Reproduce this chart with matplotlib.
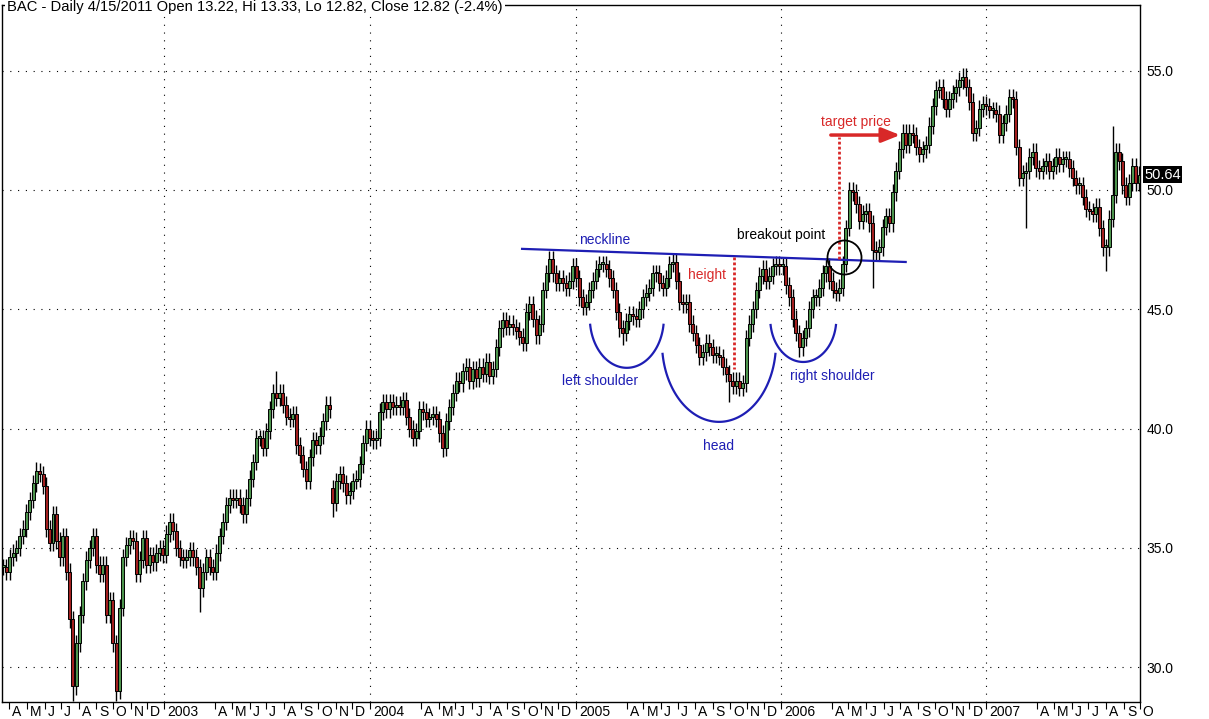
import numpy as np
import pandas as pd
import matplotlib
matplotlib.use("Agg")
import matplotlib.pyplot as plt
import matplotlib.transforms as mtransforms

plt.rcParams["font.family"] = ["Liberation Sans", "DejaVu Sans"]

# closes, one sample every ~4 trading days
closes_2002 = [
    34.2, 34.0, 34.6, 34.8, 35.0, 35.5, 35.8, 36.5, 37.0, 37.7,
    38.2, 38.1, 37.6, 35.8, 35.2, 36.4, 35.3, 34.6, 35.5, 34.0,
    32.0, 29.2, 31.0, 32.2, 33.6, 34.5, 35.0, 35.5, 34.3, 33.9,
    34.3, 32.2, 32.8, 31.0, 29.0, 32.5, 34.6, 35.1, 35.4, 35.3,
    33.9, 34.5, 35.4, 34.3, 34.7, 34.4, 34.8, 35.0, 34.7, 35.6,
    36.1, 35.7, 35.0, 34.6, 34.5, 34.6, 34.9,
]
closes_2003 = [
    34.6, 34.2, 33.3, 34.0, 34.6, 34.2, 34.0, 34.8, 35.5, 36.1,
    36.8, 37.1, 37.0, 37.1, 36.8, 36.4, 37.1, 37.9, 38.6, 39.6,
    39.6, 39.2, 39.9, 40.8, 41.5, 41.3, 41.5, 41.0, 40.5, 40.4,
    40.6, 39.3, 38.9, 38.3, 37.8, 38.8, 39.5, 39.3, 39.7, 40.3,
    41.0, 40.8, 36.9, 37.8, 38.1, 37.7, 37.2, 37.4, 37.8, 37.9,
    38.5, 39.4, 40.0, 39.6, 39.5, 39.6, 40.7, 41.1, 40.8, 41.1,
]
closes_2004 = [
    40.9, 41.0, 40.9, 41.2, 40.5, 40.0, 39.6, 39.9, 40.8, 40.7,
    40.4, 40.5, 40.6, 40.4, 39.8, 39.2, 40.3, 40.9, 41.5, 42.0,
    41.9, 42.4, 42.6, 42.0, 42.5, 42.1, 42.6, 42.3, 42.8, 42.2,
    42.5, 43.4, 44.2, 44.55, 44.25, 44.4, 44.25, 44.1, 43.85, 43.6,
    44.9, 45.2, 44.6, 43.9, 44.4, 45.8, 46.5, 47.1, 46.5, 46.1,
    46.3, 46.1, 45.9, 46.2, 46.8, 46.3, 45.5, 45.1, 45.3, 45.8,
    46.2, 46.7,
]
closes_2005 = [
    46.9, 46.9, 46.7, 46.3, 45.8, 44.9, 44.2, 44.0, 44.5, 44.8,
    44.7, 44.6, 45.0, 45.5, 45.7, 45.9, 46.5, 46.5, 46.1, 45.9,
    46.3, 46.9, 47.0, 46.2, 45.3, 45.2, 45.3, 44.4, 44.0, 43.5,
    43.0, 43.2, 43.6, 43.4, 43.1, 43.1, 43.0, 42.6, 42.3, 42.0,
    41.8, 42.0, 41.7, 41.9, 43.8, 44.4, 45.0, 45.8, 46.4, 46.7,
    46.2, 46.4, 46.8, 46.9, 46.8, 46.8, 46.0, 45.5,
]
closes_2006 = [
    44.6, 44.0, 43.4, 43.8, 44.2, 45.0, 45.5, 45.5, 45.9, 46.5,
    46.8, 46.2, 45.8, 45.7, 45.9, 46.9, 48.4, 50.0, 49.9, 49.4,
    48.7, 49.0, 49.1, 48.6, 47.5, 47.4, 47.6, 48.45, 48.9, 48.6,
    49.9, 50.8, 51.7, 52.4, 51.9, 52.4, 52.3, 51.8, 51.5, 51.7,
    51.9, 52.7, 53.5, 54.2, 54.3, 53.8, 53.4, 53.8, 54.05, 54.3,
    54.6, 54.75, 54.3, 53.7, 52.4, 52.6, 53.4, 53.6, 53.5, 53.35,
]
closes_2007 = [
    53.35, 53.2, 52.3, 52.8, 53.2, 53.9, 53.8, 51.8, 50.5, 50.7,
    50.8, 51.4, 51.6, 50.9, 50.8, 51.0, 51.2, 50.8, 51.0, 51.4,
    51.1, 51.3, 51.3, 50.9, 50.5, 50.2, 50.2, 49.7, 49.2, 49.1,
    49.0, 49.3, 48.4, 47.6, 47.6, 48.8, 49.8, 51.6, 51.2, 50.2,
    49.7, 50.3, 51.0, 50.3, 50.64,
]
# gap open (Oct 2003) and long wicks seen on the chart
gap_opens = {99: 37.5}
spike_lows = {21: 28.6, 34: 28.6, 59: 32.3, 99: 36.3, 132: 38.8, 186: 43.5,
              218: 41.1, 239: 43.0, 261: 45.9, 307: 48.4, 331: 46.6}
spike_highs = {10: 38.6, 82: 42.4, 333: 52.7}
last_price = 50.64

title = "BAC - Daily 4/15/2011 Open 13.22, Hi 13.33, Lo 12.82, Close 12.82 (-2.4%)"
y_ticks = [30.0, 35.0, 40.0, 45.0, 50.0, 55.0]
month_letters = ["J", "F", "M", "A", "M", "J", "J", "A", "S", "O", "N", "D"]

START = "2002-03-20"
BD_PER_SAMPLE = 4.23
WICK = 0.35
GREEN = "#4c944c"
RED = "#a31f1f"
BLUE = "#1e1eb4"
RED_TXT = "#d82828"


def bpos(d):
    return float(np.busday_count(START, d))


def arc(ax, center, width, height, color):
    # lower part of an ellipse, drawn in data units
    t = np.radians(np.linspace(188, 352, 80))
    cx, cy = bpos(center[0]), center[1]
    ax.plot(cx + width / 2 * np.cos(t), cy + height / 2 * np.sin(t), color=color, lw=1.6, zorder=4)


closes = np.array(closes_2002 + closes_2003 + closes_2004 + closes_2005
                  + closes_2006 + closes_2007)
n = len(closes)
x = np.arange(n) * BD_PER_SAMPLE
opens = np.r_[closes[0], closes[:-1]]
for i, v in gap_opens.items():
    opens[i] = v
hi = np.maximum(opens, closes) + WICK
lo = np.minimum(opens, closes) - WICK
for i, v in spike_lows.items():
    lo[i] = v
for i, v in spike_highs.items():
    hi[i] = v
up = closes >= opens

fig = plt.figure(figsize=(12.09, 7.19), dpi=100)
ax = fig.add_axes([2 / 1209, 17 / 719, 1138 / 1209, 697 / 719])

# grid
dots = (0, (1, 6))
for p in y_ticks:
    ax.axhline(p, color="black", lw=0.8, ls=dots, zorder=0)
for yr in range(2003, 2008):
    ax.axvline(bpos(f"{yr}-01-01"), color="black", lw=0.8, ls=dots, zorder=0)

# candles
ax.vlines(x, lo, hi, color="black", lw=1.0, zorder=2)
ax.bar(x, np.maximum(np.abs(closes - opens), 0.08), bottom=np.minimum(opens, closes),
       width=BD_PER_SAMPLE * 0.9, color=np.where(up, GREEN, RED),
       edgecolor="black", linewidth=0.7, zorder=3)

ax.set_xlim(-1.3, 1443.5)
ax.set_ylim(28.54, 57.75)

# axes styling
for s in ax.spines.values():
    s.set_color("black")
    s.set_linewidth(1)
ax.yaxis.tick_right()
ax.set_yticks(y_ticks)
ax.set_yticklabels([f"{v:.1f}" for v in y_ticks])
ax.tick_params(axis="y", length=0, pad=4.5, labelsize=10)

months = [m for m in pd.date_range("2002-04-01", "2007-10-01", freq="MS") if m.month not in (2, 3)]
month_pos = [bpos(m.strftime("%Y-%m-%d")) for m in months]
ax.set_xticks(month_pos)
ax.tick_params(axis="x", direction="out", length=5, width=0.8, labelbottom=False)
trans = mtransforms.blended_transform_factory(ax.transData, ax.transAxes) + \
    mtransforms.ScaledTranslation(3 / 100, -3 / 100, fig.dpi_scale_trans)
for m, pos in zip(months, month_pos):
    lab = str(m.year) if m.month == 1 else month_letters[m.month - 1]
    ax.text(pos, 0, lab, transform=trans, ha="left", va="top", fontsize=10, clip_on=False)

# last price tag
tag_tr = mtransforms.blended_transform_factory(ax.transAxes, ax.transData) + \
    mtransforms.ScaledTranslation(4 / 100, 0, fig.dpi_scale_trans)
ax.text(1.0, last_price, f"{last_price:.2f}", transform=tag_tr, ha="left", va="center",
        color="white", fontsize=10.5, clip_on=False,
        bbox=dict(boxstyle="square,pad=0.08", fc="black", ec="none"))

# title sitting on the frame
fig.text(7 / 1209, 1 - 7 / 719, title, ha="left", va="center", fontsize=10.6,
         bbox=dict(fc="white", ec="none", pad=1.5))

# head & shoulders annotations
ax.plot([bpos("2004-09-28"), bpos("2006-08-10")], [47.53, 46.98], color=BLUE, lw=1.6, zorder=4)
ax.text(bpos("2005-01-06"), 47.9, "neckline", color=BLUE, ha="left", va="center", fontsize=10)

arc(ax, ("2005-04-01", 44.64), 94, 4.19, BLUE)
ax.text(bpos("2005-02-14"), 42.0, "left shoulder", color=BLUE, ha="center", va="center", fontsize=10)

arc(ax, ("2005-09-13", 43.59), 144.7, 6.62, BLUE)
ax.text(bpos("2005-09-10"), 39.27, "head", color=BLUE, ha="center", va="center", fontsize=10)

arc(ax, ("2006-02-09", 44.59), 83.8, 3.60, BLUE)
ax.text(bpos("2006-04-02"), 42.2, "right shoulder", color=BLUE, ha="center", va="center", fontsize=10)

ax.plot([bpos("2005-10-10")] * 2, [47.2, 42.5], color=RED_TXT, lw=2, ls=(0, (1, 0.8)), zorder=4)
ax.text(bpos("2005-08-23"), 46.44, "height", color=RED_TXT, ha="center", va="center", fontsize=10)

ax.text(bpos("2006-01-01"), 48.1, "breakout point", color="black", ha="center", va="center", fontsize=10)
ax.plot(bpos("2006-04-22"), 47.19, marker="o", ms=24.5, mfc="none", mec="black", mew=1.3, zorder=5)

ax.plot([bpos("2006-04-13")] * 2, [47.1, 52.2], color=RED_TXT, lw=2, ls=(0, (1, 0.8)), zorder=4)
ax.annotate("", xy=(bpos("2006-08-01"), 52.3), xytext=(bpos("2006-03-30"), 52.3),
            arrowprops=dict(arrowstyle="-|>,head_length=0.55,head_width=0.22", color=RED_TXT,
                            lw=2.5, shrinkA=0, shrinkB=0, mutation_scale=20), zorder=5)
ax.text(bpos("2006-05-13"), 52.85, "target price", color=RED_TXT, ha="center", va="center", fontsize=10)

fig.savefig("out.png", dpi=100)
